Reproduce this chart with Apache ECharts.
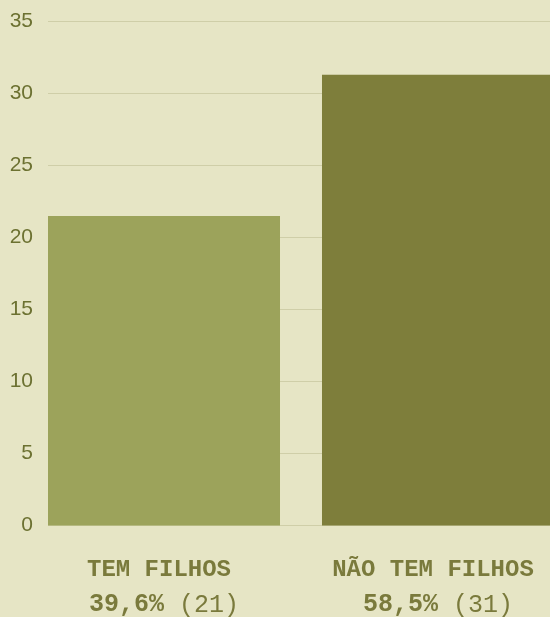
<!DOCTYPE html>
<html><head><meta charset="utf-8">
<script src="https://cdn.jsdelivr.net/npm/echarts@6/dist/echarts.min.js"></script>
<style>html,body{margin:0;padding:0;background:#e6e5c5;}#c{width:550px;height:617px;}</style>
</head><body><div id="c"></div>
<script>
const categories = ["TEM FILHOS", "NÃO TEM FILHOS"];
const barValues = [21.5, 31.3];
const counts = [21, 31];
const percents = ["39,6%", "58,5%"];
const yTicks = [0, 5, 10, 15, 20, 25, 30, 35];
const barColors = ["#9ca35b", "#7e7e3b"];

const chart = echarts.init(document.getElementById('c'));
const rich = {
  a: {fontFamily: 'Liberation Mono', fontWeight: 'bold', fontSize: 24, color: '#7a7a3c', lineHeight: 35, padding: [0, 10, 0, 0]},
  b: {fontFamily: 'Liberation Mono', fontWeight: 'bold', fontSize: 25, color: '#7a7a3c', lineHeight: 35},
  c: {fontFamily: 'Liberation Mono', fontWeight: 'normal', fontSize: 25, color: '#7a7a3c', lineHeight: 35}
};
const series = categories.map((cat, i) => ({
  type: 'bar',
  name: cat,
  xAxisIndex: 1,
  yAxisIndex: 1,
  data: [barValues[i]],
  barWidth: 232,
  barGap: '18.1%',
  clip: false,
  itemStyle: {color: barColors[i]},
  label: {
    show: true,
    position: 'bottom',
    distance: 27,
    formatter: () => '{a|' + cat + '}\n{b|' + percents[i] + ' }{c|(' + counts[i] + ')}',
    rich: rich
  }
}));
const yMin = yTicks[0], yMax = yTicks[yTicks.length - 1];
chart.setOption({
  backgroundColor: '#e6e5c5',
  animation: false,
  grid: [
    {left: 48, right: 0, top: 21.5, bottom: 91.5, containLabel: false},
    {left: 52, right: 0, top: 21.5, bottom: 91.5, containLabel: false}
  ],
  xAxis: [
    {gridIndex: 0, type: 'category', data: [''], show: false},
    {gridIndex: 1, type: 'category', data: [''], boundaryGap: true,
     axisLine: {show: false}, axisTick: {show: false}, axisLabel: {show: false}}
  ],
  yAxis: [
    {gridIndex: 0, type: 'value', min: yMin, max: yMax, interval: 5,
     axisLine: {show: false}, axisTick: {show: false},
     axisLabel: {color: '#6c7131', fontSize: 21, fontFamily: 'Liberation Sans', margin: 15},
     splitLine: {lineStyle: {color: '#cfcea8', width: 1}}},
    {gridIndex: 1, type: 'value', min: yMin, max: yMax, interval: 5, show: false,
     splitLine: {show: false}}
  ],
  series: series
});
</script></body></html>
